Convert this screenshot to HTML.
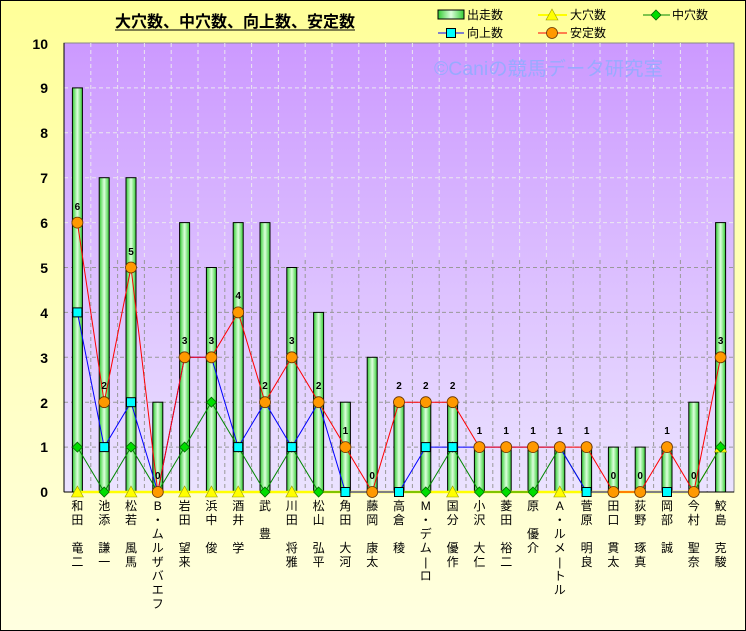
<!DOCTYPE html>
<html><head><meta charset="utf-8"><style>
html,body{margin:0;padding:0;}
svg{display:block;font-family:"Liberation Sans","Noto Sans CJK JP",sans-serif;}
</style></head><body>
<svg width="746" height="631" viewBox="0 0 746 631" xmlns="http://www.w3.org/2000/svg">
<defs>
<linearGradient id="og" x1="0" y1="0" x2="0" y2="1"><stop offset="0" stop-color="#ffff99"/><stop offset="1" stop-color="#ffffe0"/></linearGradient>
<linearGradient id="pg" x1="0" y1="0" x2="0" y2="1"><stop offset="0" stop-color="#cc99ff"/><stop offset="1" stop-color="#ebe3ff"/></linearGradient>
<linearGradient id="bg" x1="0" y1="0" x2="1" y2="0"><stop offset="0" stop-color="#33cc33"/><stop offset="0.5" stop-color="#ddffdd"/><stop offset="1" stop-color="#33cc33"/></linearGradient>
<g id="c"><circle r="5.5" fill="#ff9900" stroke="#663300" stroke-width="0.8"/></g>
<g id="s"><rect x="-4.5" y="-4.5" width="9" height="9" fill="#00ffff" stroke="#000" stroke-width="1"/></g>
<g id="d"><polygon points="0,-5 5,0 0,5 -5,0" fill="#00dd00" stroke="#006600" stroke-width="0.8"/></g>
<g id="t"><polygon points="0,-6 6,5 -6,5" fill="#ffff00" stroke="#999900" stroke-width="0.6"/></g>
</defs>
<rect x="0.5" y="0.5" width="745" height="630" fill="url(#og)" stroke="#000"/>
<text x="115" y="27" font-size="16" font-weight="bold" textLength="240" lengthAdjust="spacingAndGlyphs">大穴数、中穴数、向上数、安定数</text>
<line x1="115" y1="30" x2="355" y2="30" stroke="#000" stroke-width="1"/>
<rect x="438" y="10" width="26" height="9" fill="url(#bg)" stroke="#000"/>
<text x="467" y="19" font-size="12">出走数</text>
<line x1="538" y1="15" x2="567" y2="15" stroke="#ffff00" stroke-width="2"/><use href="#t" x="552" y="15"/>
<text x="570" y="19" font-size="12">大穴数</text>
<line x1="643" y1="15" x2="670" y2="15" stroke="#008800" stroke-width="1"/><use href="#d" x="656" y="15"/>
<text x="672" y="19" font-size="12">中穴数</text>
<line x1="438" y1="33" x2="464" y2="33" stroke="#0000ff" stroke-width="1"/><use href="#s" x="451" y="33"/>
<text x="467" y="37" font-size="12">向上数</text>
<line x1="538" y1="33" x2="567" y2="33" stroke="#ff0000" stroke-width="1"/><use href="#c" x="552" y="33"/>
<text x="570" y="37" font-size="12">安定数</text>
<rect x="64" y="43" width="670" height="449" fill="url(#pg)" stroke="#888" stroke-width="1"/>
<g stroke="#eee" stroke-dasharray="4,3" stroke-width="1" opacity="0.9">
<path d="M64 87.9H734M64 132.8H734M64 177.7H734M64 222.6H734"/>
<path d="M90.8 43V260M117.6 43V260M144.4 43V260M171.2 43V260M198 43V260M224.8 43V260M251.6 43V260M278.4 43V260M305.2 43V260M332 43V260M358.8 43V260M385.6 43V260M412.4 43V260M439.2 43V260M466 43V260M492.8 43V260M519.6 43V260M546.4 43V260M573.2 43V260M600 43V260M626.8 43V260M653.6 43V260M680.4 43V260M707.2 43V260"/>
</g>
<g stroke="#999" stroke-dasharray="4,3" stroke-width="1">
<path d="M64 267.5H734M64 312.4H734M64 357.3H734M64 402.2H734M64 447.1H734"/>
<path d="M90.8 260V492M117.6 260V492M144.4 260V492M171.2 260V492M198 260V492M224.8 260V492M251.6 260V492M278.4 260V492M305.2 260V492M332 260V492M358.8 260V492M385.6 260V492M412.4 260V492M439.2 260V492M466 260V492M492.8 260V492M519.6 260V492M546.4 260V492M573.2 260V492M600 260V492M626.8 260V492M653.6 260V492M680.4 260V492M707.2 260V492"/>
</g>
<text x="434" y="75" font-size="19" fill="#99aaff" textLength="229" lengthAdjust="spacingAndGlyphs">©Caniの競馬データ研究室</text>
<line x1="64" y1="43" x2="64" y2="492" stroke="#000"/>
<line x1="64" y1="492" x2="734" y2="492" stroke="#000"/>
<g font-size="14" font-weight="bold" text-anchor="end">
<text x="48" y="49">10</text><text x="48" y="93">9</text><text x="48" y="138">8</text><text x="48" y="183">7</text><text x="48" y="228">6</text><text x="48" y="273">5</text><text x="48" y="318">4</text><text x="48" y="363">3</text><text x="48" y="408">2</text><text x="48" y="452">1</text><text x="48" y="497">0</text>
</g>
<g fill="url(#bg)" stroke="#000" stroke-width="1">
<rect x="72.4" y="87.9" width="10" height="404.1"/>
<rect x="99.2" y="177.7" width="10" height="314.3"/>
<rect x="126" y="177.7" width="10" height="314.3"/>
<rect x="152.8" y="402.2" width="10" height="89.8"/>
<rect x="179.6" y="222.6" width="10" height="269.4"/>
<rect x="206.4" y="267.5" width="10" height="224.5"/>
<rect x="233.2" y="222.6" width="10" height="269.4"/>
<rect x="260" y="222.6" width="10" height="269.4"/>
<rect x="286.8" y="267.5" width="10" height="224.5"/>
<rect x="313.6" y="312.4" width="10" height="179.6"/>
<rect x="340.4" y="402.2" width="10" height="89.8"/>
<rect x="367.2" y="357.3" width="10" height="134.7"/>
<rect x="394" y="402.2" width="10" height="89.8"/>
<rect x="420.8" y="402.2" width="10" height="89.8"/>
<rect x="447.6" y="402.2" width="10" height="89.8"/>
<rect x="474.4" y="447.1" width="10" height="44.9"/>
<rect x="501.2" y="447.1" width="10" height="44.9"/>
<rect x="528" y="447.1" width="10" height="44.9"/>
<rect x="554.8" y="447.1" width="10" height="44.9"/>
<rect x="581.6" y="447.1" width="10" height="44.9"/>
<rect x="608.4" y="447.1" width="10" height="44.9"/>
<rect x="635.2" y="447.1" width="10" height="44.9"/>
<rect x="662" y="447.1" width="10" height="44.9"/>
<rect x="688.8" y="402.2" width="10" height="89.8"/>
<rect x="715.6" y="222.6" width="10" height="269.4"/>
</g>
<polyline fill="none" stroke="#ffff00" stroke-width="2.5" points="77.4,492 693.8,492"/>
<polyline fill="none" stroke="#cccc00" stroke-width="1" points="693.8,492 720.6,447.1"/>
<polyline fill="none" stroke="#008800" stroke-width="1" points="77.4,447.1 104.2,492 131,447.1 157.8,492 184.6,447.1 211.4,402.2 238.2,447.1 265,492 291.8,447.1 318.6,492 345.4,492 372.2,492 399,492 425.8,492 452.6,447.1 479.4,492 506.2,492 533,492 559.8,447.1 586.6,492 613.4,492 640.2,492 667,492 693.8,492 720.6,447.1"/>
<polyline fill="none" stroke="#0000ff" stroke-width="1" points="77.4,312.4 104.2,447.1 131,402.2 157.8,492 184.6,357.3 211.4,357.3 238.2,447.1 265,402.2 291.8,447.1 318.6,402.2 345.4,492 372.2,492 399,492 425.8,447.1 452.6,447.1 479.4,447.1 506.2,447.1 533,447.1 559.8,447.1 586.6,492 613.4,492 640.2,492 667,492 693.8,492"/>
<polyline fill="none" stroke="#ff0000" stroke-width="1" points="77.4,222.6 104.2,402.2 131,267.5 157.8,492 184.6,357.3 211.4,357.3 238.2,312.4 265,402.2 291.8,357.3 318.6,402.2 345.4,447.1 372.2,492 399,402.2 425.8,402.2 452.6,402.2 479.4,447.1 506.2,447.1 533,447.1 559.8,447.1 586.6,447.1 613.4,492 640.2,492 667,447.1 693.8,492 720.6,357.3"/>
<use href="#t" x="77.4" y="492"/><use href="#t" x="131" y="492"/><use href="#t" x="184.6" y="492"/><use href="#t" x="211.4" y="492"/><use href="#t" x="238.2" y="492"/><use href="#t" x="291.8" y="492"/><use href="#t" x="452.6" y="492"/><use href="#t" x="559.8" y="492"/><use href="#t" x="720.6" y="447.1"/>
<use href="#d" x="77.4" y="447.1"/><use href="#d" x="104.2" y="492"/><use href="#d" x="131" y="447.1"/><use href="#d" x="184.6" y="447.1"/><use href="#d" x="211.4" y="402.2"/><use href="#d" x="238.2" y="447.1"/><use href="#d" x="265" y="492"/><use href="#d" x="291.8" y="447.1"/><use href="#d" x="318.6" y="492"/><use href="#d" x="425.8" y="492"/><use href="#d" x="452.6" y="447.1"/><use href="#d" x="479.4" y="492"/><use href="#d" x="506.2" y="492"/><use href="#d" x="533" y="492"/><use href="#d" x="559.8" y="447.1"/><use href="#d" x="720.6" y="447.1"/>
<use href="#s" x="77.4" y="312.4"/><use href="#s" x="104.2" y="447.1"/><use href="#s" x="131" y="402.2"/><use href="#s" x="238.2" y="447.1"/><use href="#s" x="291.8" y="447.1"/><use href="#s" x="345.4" y="492"/><use href="#s" x="399" y="492"/><use href="#s" x="425.8" y="447.1"/><use href="#s" x="452.6" y="447.1"/><use href="#s" x="586.6" y="492"/><use href="#s" x="667" y="492"/>
<use href="#c" x="77.4" y="222.6"/><use href="#c" x="104.2" y="402.2"/><use href="#c" x="131" y="267.5"/><use href="#c" x="157.8" y="492"/><use href="#c" x="184.6" y="357.3"/><use href="#c" x="211.4" y="357.3"/><use href="#c" x="238.2" y="312.4"/><use href="#c" x="265" y="402.2"/><use href="#c" x="291.8" y="357.3"/><use href="#c" x="318.6" y="402.2"/><use href="#c" x="345.4" y="447.1"/><use href="#c" x="372.2" y="492"/><use href="#c" x="399" y="402.2"/><use href="#c" x="425.8" y="402.2"/><use href="#c" x="452.6" y="402.2"/><use href="#c" x="479.4" y="447.1"/><use href="#c" x="506.2" y="447.1"/><use href="#c" x="533" y="447.1"/><use href="#c" x="559.8" y="447.1"/><use href="#c" x="586.6" y="447.1"/><use href="#c" x="613.4" y="492"/><use href="#c" x="640.2" y="492"/><use href="#c" x="667" y="447.1"/><use href="#c" x="693.8" y="492"/><use href="#c" x="720.6" y="357.3"/>
<g font-size="10" font-weight="bold" text-anchor="middle">
<text x="77.4" y="210">6</text><text x="104.2" y="389">2</text><text x="131" y="255">5</text><text x="157.8" y="479">0</text><text x="184.6" y="344">3</text><text x="211.4" y="344">3</text><text x="238.2" y="299">4</text><text x="265" y="389">2</text><text x="291.8" y="344">3</text><text x="318.6" y="389">2</text><text x="345.4" y="434">1</text><text x="372.2" y="479">0</text><text x="399" y="389">2</text><text x="425.8" y="389">2</text><text x="452.6" y="389">2</text><text x="479.4" y="434">1</text><text x="506.2" y="434">1</text><text x="533" y="434">1</text><text x="559.8" y="434">1</text><text x="586.6" y="434">1</text><text x="613.4" y="479">0</text><text x="640.2" y="479">0</text><text x="667" y="434">1</text><text x="693.8" y="479">0</text><text x="720.6" y="344">3</text>
</g>
<g font-size="12" text-anchor="middle">
<text y="510"><tspan x="77.4">和</tspan><tspan x="77.4" dy="14">田</tspan><tspan x="77.4" dy="28">竜</tspan><tspan x="77.4" dy="14">二</tspan></text>
<text y="510"><tspan x="104.2">池</tspan><tspan x="104.2" dy="14">添</tspan><tspan x="104.2" dy="28">謙</tspan><tspan x="104.2" dy="14">一</tspan></text>
<text y="510"><tspan x="131">松</tspan><tspan x="131" dy="14">若</tspan><tspan x="131" dy="28">風</tspan><tspan x="131" dy="14">馬</tspan></text>
<text y="510"><tspan x="157.8">B</tspan><tspan x="157.8" dy="14">・</tspan><tspan x="157.8" dy="14">ム</tspan><tspan x="157.8" dy="14">ル</tspan><tspan x="157.8" dy="14">ザ</tspan><tspan x="157.8" dy="14">バ</tspan><tspan x="157.8" dy="14">エ</tspan><tspan x="157.8" dy="14">フ</tspan></text>
<text y="510"><tspan x="184.6">岩</tspan><tspan x="184.6" dy="14">田</tspan><tspan x="184.6" dy="28">望</tspan><tspan x="184.6" dy="14">来</tspan></text>
<text y="510"><tspan x="211.4">浜</tspan><tspan x="211.4" dy="14">中</tspan><tspan x="211.4" dy="28">俊</tspan></text>
<text y="510"><tspan x="238.2">酒</tspan><tspan x="238.2" dy="14">井</tspan><tspan x="238.2" dy="28">学</tspan></text>
<text y="510"><tspan x="265">武</tspan><tspan x="265" dy="28">豊</tspan></text>
<text y="510"><tspan x="291.8">川</tspan><tspan x="291.8" dy="14">田</tspan><tspan x="291.8" dy="28">将</tspan><tspan x="291.8" dy="14">雅</tspan></text>
<text y="510"><tspan x="318.6">松</tspan><tspan x="318.6" dy="14">山</tspan><tspan x="318.6" dy="28">弘</tspan><tspan x="318.6" dy="14">平</tspan></text>
<text y="510"><tspan x="345.4">角</tspan><tspan x="345.4" dy="14">田</tspan><tspan x="345.4" dy="28">大</tspan><tspan x="345.4" dy="14">河</tspan></text>
<text y="510"><tspan x="372.2">藤</tspan><tspan x="372.2" dy="14">岡</tspan><tspan x="372.2" dy="28">康</tspan><tspan x="372.2" dy="14">太</tspan></text>
<text y="510"><tspan x="399">高</tspan><tspan x="399" dy="14">倉</tspan><tspan x="399" dy="28">稜</tspan></text>
<text y="510"><tspan x="425.8">M</tspan><tspan x="425.8" dy="14">・</tspan><tspan x="425.8" dy="14">デ</tspan><tspan x="425.8" dy="14">ム</tspan><tspan x="425.8" dy="14">|</tspan><tspan x="425.8" dy="14">ロ</tspan></text>
<text y="510"><tspan x="452.6">国</tspan><tspan x="452.6" dy="14">分</tspan><tspan x="452.6" dy="28">優</tspan><tspan x="452.6" dy="14">作</tspan></text>
<text y="510"><tspan x="479.4">小</tspan><tspan x="479.4" dy="14">沢</tspan><tspan x="479.4" dy="28">大</tspan><tspan x="479.4" dy="14">仁</tspan></text>
<text y="510"><tspan x="506.2">菱</tspan><tspan x="506.2" dy="14">田</tspan><tspan x="506.2" dy="28">裕</tspan><tspan x="506.2" dy="14">二</tspan></text>
<text y="510"><tspan x="533">原</tspan><tspan x="533" dy="28">優</tspan><tspan x="533" dy="14">介</tspan></text>
<text y="510"><tspan x="559.8">A</tspan><tspan x="559.8" dy="14">・</tspan><tspan x="559.8" dy="14">ル</tspan><tspan x="559.8" dy="14">メ</tspan><tspan x="559.8" dy="14">|</tspan><tspan x="559.8" dy="14">ト</tspan><tspan x="559.8" dy="14">ル</tspan></text>
<text y="510"><tspan x="586.6">菅</tspan><tspan x="586.6" dy="14">原</tspan><tspan x="586.6" dy="28">明</tspan><tspan x="586.6" dy="14">良</tspan></text>
<text y="510"><tspan x="613.4">田</tspan><tspan x="613.4" dy="14">口</tspan><tspan x="613.4" dy="28">貫</tspan><tspan x="613.4" dy="14">太</tspan></text>
<text y="510"><tspan x="640.2">荻</tspan><tspan x="640.2" dy="14">野</tspan><tspan x="640.2" dy="28">琢</tspan><tspan x="640.2" dy="14">真</tspan></text>
<text y="510"><tspan x="667">岡</tspan><tspan x="667" dy="14">部</tspan><tspan x="667" dy="28">誠</tspan></text>
<text y="510"><tspan x="693.8">今</tspan><tspan x="693.8" dy="14">村</tspan><tspan x="693.8" dy="28">聖</tspan><tspan x="693.8" dy="14">奈</tspan></text>
<text y="510"><tspan x="720.6">鮫</tspan><tspan x="720.6" dy="14">島</tspan><tspan x="720.6" dy="28">克</tspan><tspan x="720.6" dy="14">駿</tspan></text>
</g>
</svg>
</body></html>
